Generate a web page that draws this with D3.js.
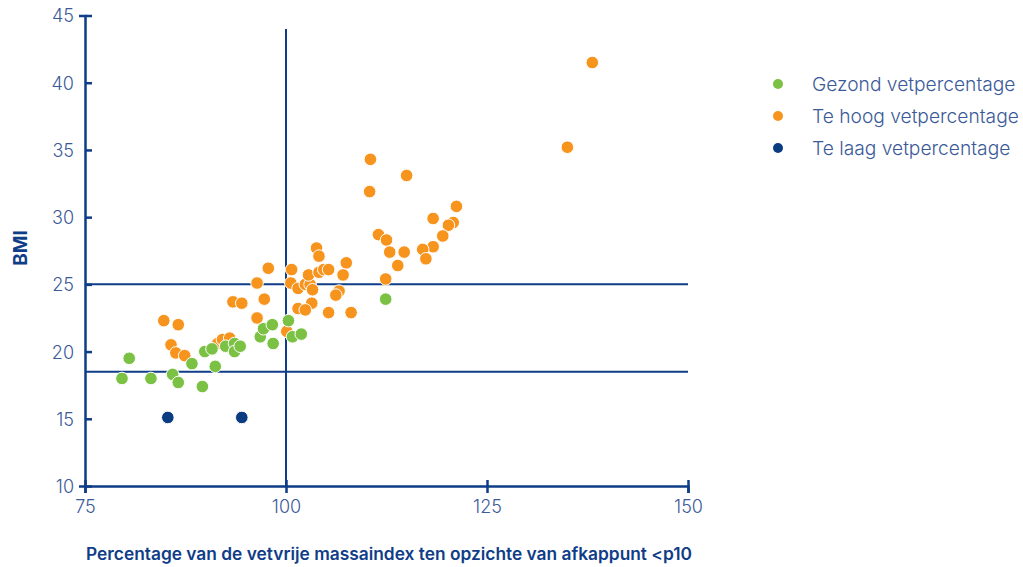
<!DOCTYPE html>
<html>
<head>
<meta charset="utf-8">
<script src="https://cdn.jsdelivr.net/npm/d3@7"></script>
<style>
  body { margin: 0; background: #fff; }
  svg text { font-family: Inter, "Noto Sans", sans-serif; }
</style>
</head>
<body>
<div id="chart"></div>
<script>
// data: [x = % of fat-free mass index vs cutoff, y = BMI]
var gezond = [
  [79.6, 18.0], [80.5, 19.5], [83.2, 18.0], [85.9, 18.3], [86.6, 17.7],
  [88.3, 19.1], [89.6, 17.4], [89.9, 20.0], [90.8, 20.2], [91.2, 18.9],
  [92.5, 20.4], [93.6, 20.6], [93.6, 20.0], [94.3, 20.4], [96.8, 21.1],
  [97.2, 21.7], [98.3, 22.0], [98.4, 20.6], [100.3, 22.3], [100.8, 21.1],
  [101.9, 21.3], [112.4, 23.9]
];
var teHoog = [
  [84.8, 22.3], [86.6, 22.0], [85.7, 20.5], [86.3, 19.9], [87.4, 19.7],
  [91.5, 20.6], [92.1, 20.9], [93.0, 21.0], [96.4, 22.5], [100.1, 21.5],
  [93.4, 23.7], [94.5, 23.6], [97.3, 23.9], [97.8, 26.2], [96.4, 25.1],
  [100.6, 25.1], [100.7, 26.1], [101.5, 24.7], [102.4, 25.0], [103.0, 25.0],
  [103.3, 24.6], [102.8, 25.7], [103.8, 27.7], [104.1, 27.1], [104.1, 25.9],
  [104.7, 26.1], [105.3, 26.1], [103.2, 23.6], [101.5, 23.2], [102.4, 23.1],
  [105.3, 22.9], [108.1, 22.9], [106.6, 24.5], [106.2, 24.2], [107.5, 26.6],
  [107.1, 25.7], [110.5, 34.3], [110.4, 31.9], [115.0, 33.1], [111.5, 28.7],
  [112.5, 28.3], [112.9, 27.4], [114.7, 27.4], [113.9, 26.4], [112.4, 25.4],
  [118.3, 29.9], [121.2, 30.8], [120.8, 29.6], [120.2, 29.4], [119.5, 28.6],
  [118.3, 27.8], [117.0, 27.6], [117.4, 26.9], [138.1, 41.5], [135.0, 35.2]
];
var teLaag = [[85.3, 15.1], [94.5, 15.1]];

var seriesNames = ["Gezond vetpercentage", "Te hoog vetpercentage", "Te laag vetpercentage"];
var seriesColors = ["#7bc143", "#f7941d", "#0b3b80"];
var xTicks = [75, 100, 125, 150];
var yTicks = [10, 15, 20, 25, 30, 35, 40, 45];
var bmiLines = [25, 18.5];
var xLine = 100;

var axisColor = "#0f3d87";
var labelColor = "#3b5a98";

var svg = d3.select("#chart").append("svg")
  .attr("width", 1023)
  .attr("height", 567);

var x = d3.scaleLinear().domain([75, 150]).range([85, 688]);
var y = d3.scaleLinear().domain([10, 45]).range([486, 15.5]);

// reference lines
svg.selectAll(".hline")
  .data(bmiLines)
  .enter().append("line")
  .attr("x1", x(75)).attr("x2", x(150))
  .attr("y1", function(d) { return y(d); })
  .attr("y2", function(d) { return y(d); })
  .attr("stroke", axisColor)
  .attr("stroke-width", 2);

svg.append("line")
  .attr("x1", x(xLine)).attr("x2", x(xLine))
  .attr("y1", y(10)).attr("y2", y(44))
  .attr("stroke", axisColor)
  .attr("stroke-width", 2);

// axes
var xAxis = svg.append("g")
  .attr("transform", "translate(0," + y(10) + ")")
  .call(d3.axisBottom(x).tickValues(xTicks).tickSize(7).tickPadding(7));
xAxis.selectAll(".tick line").attr("y1", -6);

var yAxis = svg.append("g")
  .attr("transform", "translate(" + x(75) + ",0)")
  .call(d3.axisLeft(y).tickValues(yTicks).tickSize(6).tickPadding(5));
yAxis.selectAll(".tick line").attr("x2", 7);

[xAxis, yAxis].forEach(function(g) {
  g.select(".domain").attr("stroke", axisColor).attr("stroke-width", 2.5);
  g.selectAll(".tick line").attr("stroke", axisColor).attr("stroke-width", 2.5);
  g.selectAll(".tick text")
    .attr("fill", labelColor)
    .style("font-size", "18px")
    .style("font-weight", 300);
});
yAxis.selectAll(".tick text").attr("dy", "0.36em");

// points: orange first, green and blue on top
var order = [1, 0, 2];
var groups = [gezond, teHoog, teLaag];
order.forEach(function(i) {
  svg.append("g").selectAll("circle")
    .data(groups[i])
    .enter().append("circle")
    .attr("cx", function(d) { return x(d[0]); })
    .attr("cy", function(d) { return y(d[1]); })
    .attr("r", 6.3)
    .attr("fill", seriesColors[i])
    .attr("stroke", "#fff")
    .attr("stroke-width", 1);
});

// axis titles
svg.append("text")
  .attr("x", 389)
  .attr("y", 560)
  .attr("text-anchor", "middle")
  .attr("fill", axisColor)
  .attr("textLength", 606)
  .attr("lengthAdjust", "spacingAndGlyphs")
  .style("font-size", "17px")
  .style("font-weight", 600)
  .text("Percentage van de vetvrije massaindex ten opzichte van afkappunt <p10");

svg.append("text")
  .attr("transform", "translate(27,248) rotate(-90)")
  .attr("text-anchor", "middle")
  .attr("fill", axisColor)
  .style("font-size", "19px")
  .style("font-weight", 700)
  .text("BMI");

// legend
var legend = svg.append("g").selectAll("g")
  .data(seriesNames)
  .enter().append("g")
  .attr("transform", function(d, i) { return "translate(778," + (84 + i * 32) + ")"; });

legend.append("circle")
  .attr("r", 5)
  .attr("fill", function(d, i) { return seriesColors[i]; });

legend.append("text")
  .attr("x", 34)
  .attr("dy", "0.35em")
  .attr("fill", labelColor)
  .style("font-size", "19.2px")
  .style("font-weight", 300)
  .text(function(d) { return d; });
</script>
</body>
</html>
